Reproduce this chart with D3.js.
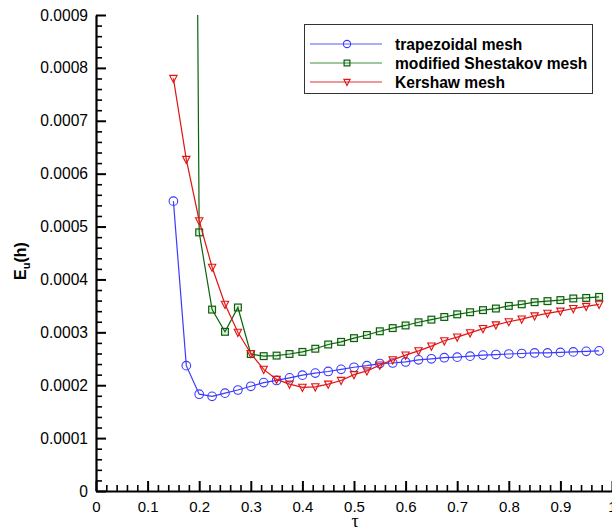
<!DOCTYPE html>
<html><head><meta charset="utf-8">
<script src="https://cdn.jsdelivr.net/npm/d3@7"></script>
<style>
body{margin:0;background:#fff;}
svg{display:block;font-family:"Liberation Sans",Arial,sans-serif;}
</style></head>
<body><svg id="c" width="612" height="529"></svg>
<script>
const tau = [0.15,0.175,0.2,0.225,0.25,0.275,0.3,0.325,0.35,0.375,0.4,0.425,0.45,0.475,0.5,0.525,0.55,0.575,0.6,0.625,0.65,0.675,0.7,0.725,0.75,0.775,0.8,0.825,0.85,0.875,0.9,0.925,0.95,0.975];
const trapezoidal = [0.000548,0.000237,0.000183,0.000179,0.000185,0.000191,0.000198,0.000205,0.000209,0.000214,0.000219,0.000223,0.000226,0.000230,0.000234,0.000237,0.000241,0.000242,0.000244,0.000248,0.000250,0.000252,0.000253,0.000255,0.000257,0.000258,0.000259,0.000260,0.000261,0.000261,0.000262,0.000263,0.000264,0.000265];
const shestakovTau = [0.175,0.2,0.225,0.25,0.275,0.3,0.325,0.35,0.375,0.4,0.425,0.45,0.475,0.5,0.525,0.55,0.575,0.6,0.625,0.65,0.675,0.7,0.725,0.75,0.775,0.8,0.825,0.85,0.875,0.9,0.925,0.95,0.975];
const shestakov = [0.0040,0.000489,0.000343,0.000301,0.000347,0.000259,0.000255,0.000256,0.000259,0.000263,0.000269,0.000277,0.000282,0.000289,0.000295,0.000302,0.000308,0.000313,0.000319,0.000324,0.000329,0.000334,0.000338,0.000342,0.000345,0.000350,0.000353,0.000357,0.000359,0.000361,0.000364,0.000365,0.000367];
const kershaw = [0.000780,0.000627,0.000511,0.000423,0.000353,0.000300,0.000260,0.000230,0.000211,0.000202,0.000196,0.000197,0.000202,0.000209,0.000220,0.000227,0.000238,0.000248,0.000257,0.000265,0.000274,0.000284,0.000291,0.000299,0.000307,0.000314,0.000320,0.000325,0.000331,0.000336,0.000340,0.000345,0.000349,0.000353];
const xTicks = [0,0.1,0.2,0.3,0.4,0.5,0.6,0.7,0.8,0.9,1];
const yTicks = [0,0.0001,0.0002,0.0003,0.0004,0.0005,0.0006,0.0007,0.0008,0.0009];
const yTickLabels = ["0","0.0001","0.0002","0.0003","0.0004","0.0005","0.0006","0.0007","0.0008","0.0009"];
const legendNames = ["trapezoidal mesh","modified Shestakov mesh","Kershaw mesh"];

const svg = d3.select("#c");
const L=96, R=612, T=15, B=491;
const x = d3.scaleLinear().domain([0,1]).range([L,R]);
const y = d3.scaleLinear().domain([0,0.0009]).range([B,T]);

const series = [
  {name:legendNames[0], xs:tau, ys:trapezoidal, color:"#3b3bff", mk:"circle"},
  {name:legendNames[1], xs:shestakovTau, ys:shestakov, color:"#0b620b", mk:"square"},
  {name:legendNames[2], xs:tau, ys:kershaw, color:"#e01414", mk:"tri"}
];

svg.append("defs").append("clipPath").attr("id","clip")
  .append("rect").attr("x",L).attr("y",T).attr("width",R-L+2).attr("height",B-T);

const plot = svg.append("g").attr("clip-path","url(#clip)");
const line = d3.line().x(d=>x(d[0])).y(d=>y(d[1]));

function marker(g, type, cx, cy, color, s){
  if(type==="circle"){
    g.append("circle").attr("cx",cx).attr("cy",cy).attr("r",4.3*s)
      .attr("fill","none").attr("stroke",color).attr("stroke-width",1.1);
  } else if(type==="square"){
    const h=3.4*s;
    g.append("rect").attr("x",cx-h).attr("y",cy-h).attr("width",2*h).attr("height",2*h)
      .attr("fill","rgba(60,140,60,0.12)").attr("stroke",color).attr("stroke-width",1.2);
  } else {
    const w=3.7*s, h=3.6*s;
    g.append("path").attr("d",`M${cx-w},${cy-h*0.85}L${cx+w},${cy-h*0.85}L${cx},${cy+h*1.15}Z`)
      .attr("fill","rgba(240,120,120,0.15)").attr("stroke",color).attr("stroke-width",1.1);
  }
}

series.forEach(s=>{
  const pts = s.xs.map((v,i)=>[v,s.ys[i]]);
  plot.append("path").datum(pts).attr("d",line).attr("fill","none")
    .attr("stroke",s.color).attr("stroke-width",1.2);
  const g = plot.append("g");
  pts.forEach(p=>{ if(p[1]<=0.0009) marker(g,s.mk,x(p[0]),y(p[1]),s.color,1); });
});

// axes
const xMinor = d3.range(0,1.0001,0.02).filter(v=>Math.abs(v*10-Math.round(v*10))>1e-6);
const yMinor = d3.range(0,0.00090001,0.00002).filter(v=>Math.abs(v*10000-Math.round(v*10000))>1e-6);

const gx = svg.append("g").attr("transform",`translate(0,${B})`);
gx.append("g").call(d3.axisBottom(x).tickValues(xMinor).tickFormat("").tickSize(-6).tickSizeOuter(0))
  .call(g=>g.select(".domain").remove())
  .call(g=>g.selectAll("line").attr("stroke","#000").attr("stroke-width",1.6));
gx.append("g").call(d3.axisBottom(x).tickValues(xTicks).tickFormat(d3.format("")).tickSize(-10).tickSizeOuter(0).tickPadding(10))
  .call(g=>g.select(".domain").attr("stroke","#000").attr("stroke-width",2.2))
  .call(g=>g.selectAll("line").attr("stroke","#000").attr("stroke-width",2))
  .call(g=>g.selectAll("text").attr("fill","#000").style("font-size","15px").style("font-family","Liberation Sans, Arial, sans-serif"));

const gy = svg.append("g").attr("transform",`translate(${L},0)`);
gy.append("g").call(d3.axisLeft(y).tickValues(yMinor).tickFormat("").tickSize(-6).tickSizeOuter(0))
  .call(g=>g.select(".domain").remove())
  .call(g=>g.selectAll("line").attr("stroke","#000").attr("stroke-width",1.6));
gy.append("g").call(d3.axisLeft(y).tickValues(yTicks).tickFormat((d,i)=>yTickLabels[i]).tickSize(-10).tickSizeOuter(0).tickPadding(8))
  .call(g=>g.select(".domain").attr("stroke","#000").attr("stroke-width",2.2))
  .call(g=>g.selectAll("line").attr("stroke","#000").attr("stroke-width",2))
  .call(g=>g.selectAll("text").attr("fill","#000").style("font-size","15.6px").style("font-family","Liberation Sans, Arial, sans-serif"));

// axis titles
svg.append("text").attr("x",355).attr("y",526.5).attr("text-anchor","middle")
  .style("font-size","18px").style("font-family","Liberation Serif, Times New Roman, serif").text("τ");
const yl = svg.append("text").attr("transform","translate(26,261) rotate(-90)")
  .attr("text-anchor","middle").style("font-size","16px").style("font-weight","bold");
yl.append("tspan").text("E");
yl.append("tspan").attr("dy","4").style("font-size","11px").text("u");
yl.append("tspan").attr("dy","-4").text("(h)");

// legend
const lg = svg.append("g");
lg.append("rect").attr("x",304.5).attr("y",24.5).attr("width",288).attr("height",69)
  .attr("fill","#fff").attr("stroke","#333").attr("stroke-width",1);
const legendColors = ["#5a5aff","#3f8f3f","#e43030"];
series.forEach((s,i)=>{
  const yy = 44 + i*19;
  lg.append("line").attr("x1",310).attr("x2",382).attr("y1",yy).attr("y2",yy)
    .attr("stroke",legendColors[i]).attr("stroke-width",1.2);
  marker(lg,s.mk,347,yy,s.color,0.85);
  lg.append("text").attr("x",395).attr("y",yy+5.5).style("font-size","15.6px")
    .style("font-weight","bold").text(s.name);
});
</script></body></html>
